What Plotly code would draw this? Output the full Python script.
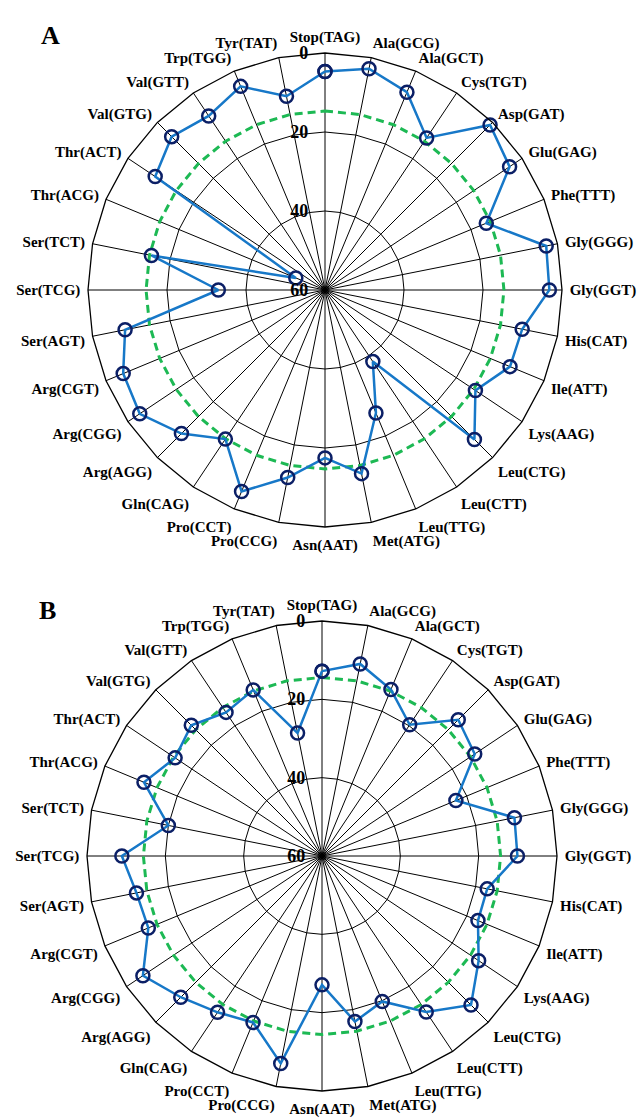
import plotly.graph_objects as go

categories = ["Stop(TAG)", "Ala(GCG)", "Ala(GCT)", "Cys(TGT)", "Asp(GAT)", "Glu(GAG)",
              "Phe(TTT)", "Gly(GGG)", "Gly(GGT)", "His(CAT)", "Ile(ATT)", "Lys(AAG)",
              "Leu(CTG)", "Leu(CTT)", "Leu(TTG)", "Met(ATG)", "Asn(AAT)", "Pro(CCG)",
              "Pro(CCT)", "Gln(CAG)", "Arg(AGG)", "Arg(CGG)", "Arg(CGT)", "Ser(AGT)",
              "Ser(TCG)", "Ser(TCT)", "Thr(ACG)", "Thr(ACT)", "Val(GTG)", "Val(GTT)",
              "Trp(TGG)", "Tyr(TAT)"]

values_a = [4.7, 2.9, 5.8, 13.7, 0.9, 3.8, 15.8, 2.9, 3.2, 9.1, 9.3, 14.2,
            6.5, 38.2, 26.3, 12.6, 17.5, 11.6, 4.8, 14.6, 8.6, 3.6, 4.7, 8.4,
            33.0, 15.2, 52.0, 8.3, 5.1, 7.0, 4.2, 10.0]

values_b = [12.8, 10.0, 14.0, 19.7, 10.8, 13.1, 23.0, 9.9, 10.1, 17.0, 16.9, 11.9,
            6.2, 12.1, 19.8, 16.9, 27.1, 6.0, 14.0, 12.0, 9.0, 5.0, 12.0, 11.7,
            8.9, 20.0, 10.8, 14.9, 12.8, 15.9, 14.1, 28.0]

threshold_a = 14.7
threshold_b = 14.4

radial_ticks = [0, 20, 40, 60]
panel_labels = ["A", "B"]

LINE_COLOR = "#1778c8"
MARKER_COLOR = "#0b1f66"
GREEN = "#1db954"
FONT = "Liberation Serif"

fig = go.Figure()

def add_panel(values, threshold, subplot):
    theta = categories + [categories[0]]
    fig.add_trace(go.Scatterpolar(
        r=[threshold] * len(theta), theta=theta, mode="lines",
        line=dict(color=GREEN, width=3, dash="8px,5px"),
        subplot=subplot, showlegend=False, hoverinfo="skip"))
    fig.add_trace(go.Scatterpolar(
        r=values + [values[0]], theta=theta, mode="lines+markers",
        line=dict(color=LINE_COLOR, width=2.5),
        marker=dict(symbol="circle-open", size=13, color=MARKER_COLOR,
                    line=dict(width=2.5, color=MARKER_COLOR)),
        subplot=subplot, showlegend=False))

add_panel(values_a, threshold_a, "polar")
add_panel(values_b, threshold_b, "polar2")

def polar_cfg(xd, yd):
    return dict(
        domain=dict(x=xd, y=yd),
        gridshape="linear",
        bgcolor="white",
        angularaxis=dict(
            type="category", categoryarray=categories, direction="clockwise",
            rotation=90, showline=True, linecolor="black", linewidth=1.3,
            gridcolor="black", gridwidth=1.2, ticks="outside", ticklen=4,
            tickcolor="rgba(0,0,0,0)", showgrid=True,
            tickfont=dict(family=FONT, size=15, color="black", weight="bold"),
        ),
        radialaxis=dict(
            range=[60, 0], tickvals=radial_ticks, angle=90, side="counterclockwise",
            showline=False, gridcolor="black", gridwidth=1.2, ticks="outside",
            ticklen=10, tickcolor="rgba(0,0,0,0)",
            tickangle=90,
            tickfont=dict(family=FONT, size=18, color="black", weight="bold"),
        ),
    )

W, H = 641, 1118
def dom(cx, cy, R):
    return [(cx - R) / W, (cx + R) / W], [1 - (cy + R) / H, 1 - (cy - R) / H]

xa, ya = dom(325, 290, 237)
xb, yb = dom(322, 856, 235)

fig.update_layout(
    width=W, height=H,
    margin=dict(l=0, r=0, t=0, b=0),
    paper_bgcolor="white",
    polar=polar_cfg(xa, ya),
    polar2=polar_cfg(xb, yb),
    annotations=[
        dict(text=panel_labels[0], x=39 / W, y=1 - 19 / H, xref="paper", yref="paper",
             showarrow=False, font=dict(family=FONT, size=26, color="black", weight="bold")),
        dict(text=panel_labels[1], x=37 / W, y=1 - 610 / H, xref="paper", yref="paper",
             showarrow=False, font=dict(family=FONT, size=26, color="black", weight="bold")),
    ],
)

fig.write_html("out.html")
